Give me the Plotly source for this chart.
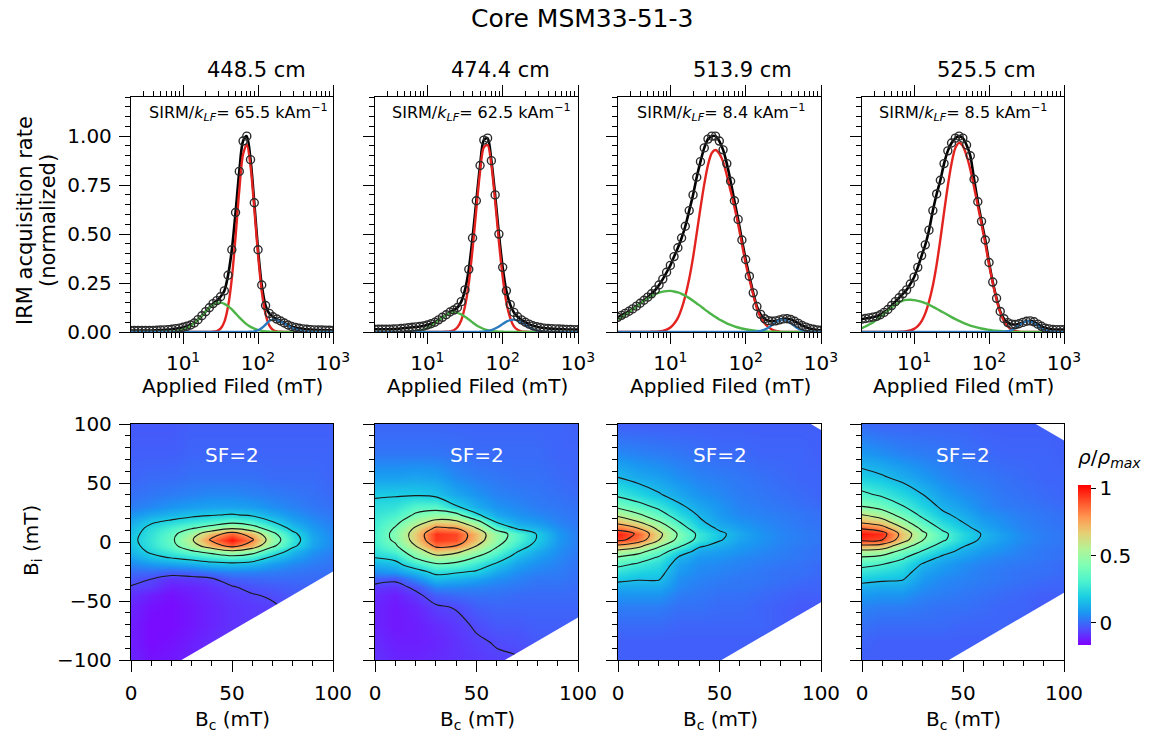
import plotly.graph_objects as go

W, H = 1149, 736
FONT = "DejaVu Sans"


def fx(p):
    return p / W


def fy(p):
    return 1 - p / H


# ---------------- IRM acquisition (top row) ----------------
FIELD_MT = [2.00, 2.24, 2.51, 2.82, 3.16, 3.55, 3.98, 4.47, 5.01, 5.62,
            6.31, 7.08, 7.94, 8.91, 10.0, 11.2, 12.6, 14.1, 15.8, 17.8,
            20.0, 22.4, 25.1, 28.2, 31.6, 35.5, 39.8, 44.7, 50.1, 56.2,
            63.1, 70.8, 79.4, 89.1, 100, 112, 126, 141, 158, 178,
            200, 224, 251, 282, 316, 355, 398, 447, 501, 562,
            631, 708, 794, 891, 1000]

TOTAL_448 = [0.008, 0.008, 0.008, 0.008, 0.008, 0.008, 0.008, 0.009, 0.010, 0.011,
             0.012, 0.014, 0.017, 0.020, 0.024, 0.029, 0.036, 0.046, 0.063, 0.083,
             0.104, 0.124, 0.145, 0.160, 0.180, 0.210, 0.290, 0.420, 0.610, 0.820,
             0.975, 1.000, 0.880, 0.660, 0.420, 0.240, 0.135, 0.095, 0.078, 0.066,
             0.056, 0.046, 0.036, 0.028, 0.023, 0.019, 0.016, 0.014, 0.012, 0.011,
             0.010, 0.010, 0.009, 0.009, 0.008]
RED_448 = [0, 0, 0, 0, 0, 0, 0, 0, 0, 0,
           0, 0, 0, 0, 0, 0, 0, 0, 0, 0,
           0, 0, 0.001, 0.005, 0.017, 0.052, 0.130, 0.274, 0.486, 0.725,
           0.908, 0.957, 0.847, 0.631, 0.395, 0.208, 0.092, 0.034, 0.011, 0.003,
           0.001, 0, 0, 0, 0, 0, 0, 0, 0, 0,
           0, 0, 0, 0, 0]
GREEN_448 = [0, 0, 0, 0, 0, 0, 0, 0, 0, 0.001,
             0.001, 0.002, 0.004, 0.007, 0.013, 0.020, 0.031, 0.045, 0.063, 0.083,
             0.103, 0.123, 0.138, 0.148, 0.150, 0.144, 0.132, 0.115, 0.095, 0.075,
             0.056, 0.039, 0.026, 0.017, 0.010, 0.006, 0.003, 0.002, 0.001, 0,
             0, 0, 0, 0, 0, 0, 0, 0, 0, 0,
             0, 0, 0, 0, 0]
BLUE_448 = [0, 0, 0, 0, 0, 0, 0, 0, 0, 0,
            0, 0, 0, 0, 0, 0, 0, 0, 0, 0,
            0, 0, 0, 0, 0, 0, 0, 0, 0, 0,
            0, 0, 0.001, 0.003, 0.009, 0.020, 0.038, 0.056, 0.063, 0.060,
            0.053, 0.043, 0.032, 0.021, 0.013, 0.008, 0.004, 0.002, 0.001, 0,
            0, 0, 0, 0, 0]

TOTAL_474 = [0.014, 0.014, 0.014, 0.014, 0.014, 0.015, 0.016, 0.018, 0.020, 0.022,
             0.024, 0.026, 0.028, 0.031, 0.036, 0.042, 0.050, 0.062, 0.075, 0.088,
             0.102, 0.112, 0.125, 0.155, 0.215, 0.320, 0.480, 0.670, 0.850, 0.980,
             0.990, 0.875, 0.700, 0.500, 0.330, 0.210, 0.140, 0.100, 0.078, 0.062,
             0.050, 0.040, 0.032, 0.027, 0.023, 0.020, 0.018, 0.017, 0.016, 0.015,
             0.014, 0.013, 0.013, 0.012, 0.012]
RED_474 = [0, 0, 0, 0, 0, 0, 0, 0, 0, 0,
           0, 0, 0, 0, 0, 0, 0, 0, 0, 0.001,
           0.003, 0.009, 0.024, 0.060, 0.131, 0.250, 0.422, 0.627, 0.819, 0.943,
           0.955, 0.852, 0.669, 0.462, 0.281, 0.150, 0.071, 0.029, 0.011, 0.003,
           0.001, 0, 0, 0, 0, 0, 0, 0, 0, 0,
           0, 0, 0, 0, 0]
GREEN_474 = [0, 0, 0, 0, 0, 0, 0, 0, 0, 0.001,
             0.002, 0.004, 0.007, 0.012, 0.020, 0.030, 0.043, 0.058, 0.073, 0.086,
             0.096, 0.100, 0.098, 0.090, 0.078, 0.064, 0.049, 0.035, 0.024, 0.015,
             0.009, 0.005, 0.003, 0.001, 0.001, 0, 0, 0, 0, 0,
             0, 0, 0, 0, 0, 0, 0, 0, 0, 0,
             0, 0, 0, 0, 0]
BLUE_474 = [0, 0, 0, 0, 0, 0, 0, 0, 0, 0,
            0, 0, 0, 0, 0, 0, 0, 0, 0, 0,
            0, 0, 0, 0, 0, 0, 0, 0, 0.001, 0.002,
            0.005, 0.010, 0.018, 0.028, 0.041, 0.053, 0.061, 0.063, 0.058, 0.048,
            0.036, 0.024, 0.014, 0.007, 0.004, 0.002, 0.001, 0, 0, 0,
            0, 0, 0, 0, 0]

TOTAL_513 = [0.075, 0.085, 0.095, 0.106, 0.118, 0.132, 0.147, 0.162, 0.178, 0.195,
             0.215, 0.240, 0.270, 0.305, 0.340, 0.385, 0.430, 0.480, 0.540, 0.620,
             0.700, 0.790, 0.870, 0.940, 0.985, 1.000, 1.000, 0.975, 0.930, 0.860,
             0.770, 0.670, 0.575, 0.470, 0.370, 0.285, 0.200, 0.130, 0.090, 0.068,
             0.058, 0.055, 0.057, 0.062, 0.067, 0.068, 0.064, 0.055, 0.044, 0.033,
             0.025, 0.018, 0.014, 0.010, 0.009]
RED_513 = [0, 0, 0, 0, 0, 0, 0, 0, 0, 0.001,
           0.001, 0.003, 0.006, 0.012, 0.023, 0.042, 0.072, 0.119, 0.184, 0.272,
           0.380, 0.504, 0.633, 0.755, 0.853, 0.914, 0.929, 0.910, 0.870, 0.800,
           0.720, 0.640, 0.550, 0.450, 0.350, 0.270, 0.190, 0.120, 0.075, 0.045,
           0.025, 0.012, 0.005, 0.002, 0, 0, 0, 0, 0, 0,
           0, 0, 0, 0, 0]
GREEN_513 = [0.062, 0.074, 0.087, 0.100, 0.115, 0.129, 0.144, 0.158, 0.171, 0.183,
             0.193, 0.201, 0.206, 0.209, 0.210, 0.207, 0.202, 0.195, 0.185, 0.173,
             0.160, 0.146, 0.132, 0.117, 0.103, 0.089, 0.076, 0.064, 0.054, 0.044,
             0.036, 0.029, 0.023, 0.018, 0.014, 0.010, 0.008, 0.006, 0.004, 0.003,
             0.002, 0.001, 0.001, 0, 0, 0, 0, 0, 0, 0,
             0, 0, 0, 0, 0]
BLUE_513 = [0, 0, 0, 0, 0, 0, 0, 0, 0, 0,
            0, 0, 0, 0, 0, 0, 0, 0, 0, 0,
            0, 0, 0, 0, 0, 0, 0, 0, 0, 0,
            0, 0, 0, 0, 0, 0, 0.001, 0.002, 0.005, 0.012,
            0.022, 0.035, 0.050, 0.060, 0.063, 0.057, 0.044, 0.030, 0.017, 0.009,
            0.004, 0.002, 0.001, 0, 0]

TOTAL_525 = [0.066, 0.069, 0.072, 0.076, 0.080, 0.088, 0.100, 0.115, 0.135, 0.155,
             0.175, 0.195, 0.215, 0.245, 0.280, 0.330, 0.390, 0.445, 0.520, 0.620,
             0.705, 0.775, 0.860, 0.925, 0.965, 0.990, 1.000, 0.990, 0.955, 0.900,
             0.780, 0.665, 0.565, 0.470, 0.355, 0.255, 0.172, 0.105, 0.068, 0.048,
             0.040, 0.038, 0.042, 0.049, 0.055, 0.057, 0.052, 0.040, 0.029, 0.020,
             0.016, 0.013, 0.012, 0.012, 0.012]
RED_525 = [0, 0, 0, 0, 0, 0, 0, 0, 0, 0,
           0.001, 0.002, 0.004, 0.008, 0.016, 0.030, 0.055, 0.095, 0.155, 0.238,
           0.345, 0.473, 0.611, 0.747, 0.861, 0.939, 0.966, 0.950, 0.900, 0.830,
           0.740, 0.645, 0.550, 0.450, 0.345, 0.250, 0.165, 0.100, 0.055, 0.028,
           0.012, 0.005, 0.002, 0, 0, 0, 0, 0, 0, 0,
           0, 0, 0, 0, 0]
GREEN_525 = [0.020, 0.028, 0.038, 0.049, 0.062, 0.077, 0.093, 0.109, 0.125, 0.139,
             0.151, 0.160, 0.164, 0.165, 0.163, 0.159, 0.154, 0.147, 0.139, 0.129,
             0.119, 0.108, 0.098, 0.087, 0.076, 0.066, 0.057, 0.048, 0.040, 0.033,
             0.027, 0.022, 0.018, 0.014, 0.011, 0.008, 0.006, 0.005, 0.003, 0.002,
             0.001, 0, 0, 0, 0, 0, 0, 0, 0, 0,
             0, 0, 0, 0, 0]
BLUE_525 = [0, 0, 0, 0, 0, 0, 0, 0, 0, 0,
            0, 0, 0, 0, 0, 0, 0, 0, 0, 0,
            0, 0, 0, 0, 0, 0, 0, 0, 0, 0,
            0, 0, 0, 0, 0, 0, 0, 0, 0.002, 0.004,
            0.010, 0.020, 0.033, 0.046, 0.054, 0.053, 0.044, 0.031, 0.018, 0.009,
            0.004, 0.002, 0.001, 0, 0]

DEPTHS = ["448.5 cm", "474.4 cm", "513.9 cm", "525.5 cm"]
SIRM_KLF = ["65.5", "62.5", "8.4", "8.5"]

# ---------------- FORC diagrams (bottom row) ----------------
BC_GRID = [0, 10, 20, 30, 40, 50, 60, 70, 80, 90, 100]
BI_GRID = [-100, -85, -70, -55, -45, -38, -31, -25, -19, -13, -8, -3,
           2, 7, 12, 17, 23, 30, 40, 55, 75, 100]

# each inner list is one Bc column, values listed along BI_GRID
FORC_448 = [
    [-0.11, -0.12, -0.12, -0.11, -0.09, -0.065, -0.03, 0.0, 0.05, 0.10, 0.14, 0.16,
     0.17, 0.16, 0.14, 0.11, 0.07, 0.03, 0.01, -0.01, -0.02, -0.03],
    [-0.14, -0.15, -0.15, -0.14, -0.12, -0.08, -0.058, 0.0, 0.08, 0.17, 0.22, 0.25,
     0.26, 0.25, 0.23, 0.185, 0.11, 0.05, 0.02, 0.0, -0.02, -0.03],
    [-0.13, -0.14, -0.15, -0.15, -0.14, -0.12, -0.09, -0.02, 0.10, 0.21, 0.29, 0.35,
     0.37, 0.35, 0.30, 0.225, 0.14, 0.07, 0.03, 0.0, -0.02, -0.03],
    [-0.11, -0.12, -0.13, -0.13, -0.12, -0.11, -0.08, -0.01, 0.12, 0.25, 0.38, 0.52,
     0.58, 0.52, 0.38, 0.27, 0.17, 0.09, 0.04, 0.01, -0.01, -0.02],
    [-0.09, -0.10, -0.11, -0.11, -0.10, -0.09, -0.065, 0.02, 0.15, 0.30, 0.46, 0.72,
     0.83, 0.72, 0.46, 0.31, 0.19, 0.10, 0.05, 0.01, -0.01, -0.02],
    [-0.08, -0.08, -0.09, -0.09, -0.08, -0.065, -0.02, 0.04, 0.16, 0.34, 0.56, 0.87,
     1.00, 0.87, 0.56, 0.36, 0.21, 0.10, 0.05, 0.01, -0.01, -0.02],
    [-0.07, -0.07, -0.08, -0.08, -0.065, -0.04, -0.01, 0.04, 0.14, 0.30, 0.47, 0.72,
     0.82, 0.72, 0.47, 0.31, 0.18, 0.09, 0.04, 0.01, -0.01, -0.02],
    [-0.055, -0.055, -0.07, -0.07, -0.05, -0.03, 0.0, 0.03, 0.09, 0.18, 0.29, 0.44,
     0.50, 0.44, 0.30, 0.205, 0.12, 0.06, 0.03, 0.0, -0.01, -0.02],
    [-0.05, -0.05, -0.05, -0.04, -0.03, -0.02, 0.0, 0.02, 0.05, 0.10, 0.15, 0.23,
     0.26, 0.23, 0.16, 0.11, 0.07, 0.04, 0.02, 0.0, -0.01, -0.02],
    [-0.04, -0.04, -0.04, -0.03, -0.02, -0.01, 0.0, 0.01, 0.03, 0.05, 0.07, 0.10,
     0.11, 0.10, 0.08, 0.06, 0.04, 0.02, 0.01, 0.0, -0.01, -0.02],
    [-0.03, -0.03, -0.03, -0.02, -0.02, -0.01, 0.0, 0.01, 0.015, 0.025, 0.035, 0.045,
     0.05, 0.045, 0.04, 0.03, 0.02, 0.01, 0.0, -0.01, -0.01, -0.02],
]
FORC_474 = [
    [-0.09, -0.10, -0.11, -0.11, -0.10, -0.08, -0.02, 0.06, 0.13, 0.205, 0.25, 0.28,
     0.30, 0.30, 0.29, 0.28, 0.26, 0.235, 0.185, 0.09, 0.02, -0.01],
    [-0.11, -0.12, -0.13, -0.13, -0.12, -0.09, -0.04, 0.08, 0.16, 0.24, 0.32, 0.38,
     0.43, 0.44, 0.41, 0.36, 0.30, 0.25, 0.19, 0.09, 0.02, -0.01],
    [-0.11, -0.12, -0.12, -0.11, -0.08, -0.04, 0.05, 0.15, 0.28, 0.42, 0.50, 0.605,
     0.67, 0.68, 0.62, 0.52, 0.42, 0.33, 0.19, 0.10, 0.02, -0.01],
    [-0.10, -0.11, -0.10, -0.07, -0.02, 0.05, 0.15, 0.24, 0.38, 0.54, 0.69, 0.84,
     0.94, 0.95, 0.82, 0.66, 0.47, 0.34, 0.17, 0.09, 0.02, -0.01],
    [-0.09, -0.09, -0.08, -0.055, 0.0, 0.05, 0.13, 0.22, 0.36, 0.50, 0.64, 0.805,
     0.91, 0.92, 0.79, 0.63, 0.45, 0.21, 0.11, 0.05, 0.01, -0.01],
    [-0.08, -0.07, -0.05, -0.02, 0.01, 0.04, 0.10, 0.19, 0.27, 0.39, 0.50, 0.605,
     0.69, 0.70, 0.595, 0.47, 0.22, 0.12, 0.07, 0.03, 0.0, -0.01],
    [-0.07, -0.055, -0.03, -0.01, 0.01, 0.03, 0.06, 0.11, 0.18, 0.27, 0.35, 0.42,
     0.47, 0.48, 0.33, 0.19, 0.11, 0.07, 0.04, 0.02, 0.0, -0.01],
    [-0.065, -0.045, -0.03, -0.01, 0.0, 0.02, 0.04, 0.06, 0.10, 0.15, 0.205, 0.27,
     0.32, 0.33, 0.17, 0.11, 0.07, 0.05, 0.03, 0.01, 0.0, -0.01],
    [-0.04, -0.03, -0.02, -0.01, 0.0, 0.01, 0.02, 0.04, 0.06, 0.09, 0.12, 0.16,
     0.19, 0.19, 0.13, 0.08, 0.05, 0.03, 0.02, 0.01, 0.0, -0.01],
    [-0.03, -0.03, -0.02, -0.01, 0.0, 0.01, 0.02, 0.03, 0.04, 0.05, 0.06, 0.07,
     0.08, 0.08, 0.06, 0.04, 0.03, 0.02, 0.01, 0.0, -0.01, -0.01],
    [-0.03, -0.02, -0.02, -0.01, 0.0, 0.0, 0.01, 0.01, 0.015, 0.02, 0.025, 0.03,
     0.03, 0.03, 0.025, 0.02, 0.015, 0.01, 0.0, -0.01, -0.01, -0.02],
]
FORC_513 = [
    [-0.02, -0.02, 0.0, 0.03, 0.07, 0.11, 0.18, 0.25, 0.33, 0.44, 0.56, 0.73,
     0.94, 0.98, 0.84, 0.70, 0.57, 0.42, 0.275, 0.148, 0.05, -0.02],
    [-0.02, -0.02, 0.0, 0.03, 0.07, 0.11, 0.16, 0.21, 0.28, 0.38, 0.50, 0.65,
     0.84, 0.88, 0.74, 0.605, 0.47, 0.35, 0.22, 0.11, 0.04, -0.02],
    [-0.02, -0.02, 0.0, 0.03, 0.07, 0.11, 0.16, 0.19, 0.23, 0.29, 0.37, 0.48,
     0.61, 0.64, 0.56, 0.46, 0.36, 0.27, 0.16, 0.09, 0.03, -0.02],
    [-0.02, -0.02, -0.01, 0.01, 0.03, 0.05, 0.06, 0.08, 0.10, 0.14, 0.22, 0.33,
     0.41, 0.43, 0.37, 0.305, 0.23, 0.17, 0.11, 0.06, 0.02, -0.02],
    [-0.02, -0.02, -0.01, 0.01, 0.02, 0.03, 0.04, 0.05, 0.06, 0.08, 0.11, 0.17,
     0.26, 0.27, 0.21, 0.17, 0.14, 0.11, 0.07, 0.04, 0.01, -0.02],
    [-0.02, -0.02, -0.01, 0.0, 0.01, 0.02, 0.03, 0.04, 0.05, 0.07, 0.09, 0.12,
     0.16, 0.17, 0.13, 0.10, 0.08, 0.07, 0.05, 0.03, 0.0, -0.02],
    [-0.02, -0.02, -0.01, 0.0, 0.01, 0.02, 0.02, 0.03, 0.04, 0.05, 0.07, 0.08,
     0.10, 0.11, 0.09, 0.07, 0.05, 0.04, 0.03, 0.02, 0.0, -0.02],
    [-0.02, -0.02, -0.01, -0.01, 0.0, 0.01, 0.02, 0.02, 0.03, 0.04, 0.05, 0.06,
     0.07, 0.07, 0.06, 0.05, 0.04, 0.03, 0.02, 0.01, -0.01, -0.02],
    [-0.03, -0.03, -0.02, -0.02, -0.01, 0.0, 0.01, 0.01, 0.02, 0.03, 0.035, 0.04,
     0.045, 0.045, 0.04, 0.035, 0.03, 0.02, 0.01, 0.0, -0.01, -0.02],
    [-0.03, -0.03, -0.03, -0.03, -0.02, -0.01, 0.0, 0.01, 0.01, 0.02, 0.02, 0.025,
     0.03, 0.03, 0.025, 0.02, 0.02, 0.01, 0.0, -0.01, -0.01, -0.02],
    [-0.03, -0.03, -0.03, -0.03, -0.02, -0.01, -0.01, 0.0, 0.0, 0.01, 0.01, 0.015,
     0.02, 0.02, 0.015, 0.01, 0.01, 0.0, -0.01, -0.01, -0.02, -0.02],
]
FORC_525 = [
    [-0.02, -0.01, 0.01, 0.04, 0.08, 0.12, 0.19, 0.26, 0.33, 0.44, 0.56, 0.73,
     0.94, 0.99, 0.88, 0.72, 0.602, 0.452, 0.33, 0.19, 0.08, 0.0],
    [-0.02, -0.02, 0.0, 0.03, 0.07, 0.11, 0.17, 0.23, 0.30, 0.41, 0.53, 0.70,
     0.91, 0.96, 0.80, 0.66, 0.53, 0.40, 0.28, 0.16, 0.06, -0.01],
    [-0.02, -0.02, 0.0, 0.03, 0.07, 0.11, 0.16, 0.20, 0.25, 0.32, 0.41, 0.53,
     0.67, 0.70, 0.605, 0.50, 0.40, 0.31, 0.22, 0.12, 0.04, -0.01],
    [-0.02, -0.02, 0.0, 0.02, 0.04, 0.06, 0.08, 0.10, 0.14, 0.21, 0.29, 0.37,
     0.46, 0.48, 0.41, 0.34, 0.27, 0.21, 0.152, 0.08, 0.03, -0.01],
    [-0.02, -0.02, 0.0, 0.01, 0.03, 0.04, 0.05, 0.07, 0.09, 0.13, 0.19, 0.25,
     0.32, 0.33, 0.27, 0.22, 0.17, 0.13, 0.09, 0.05, 0.02, -0.01],
    [-0.02, -0.02, -0.01, 0.01, 0.02, 0.03, 0.04, 0.05, 0.06, 0.09, 0.12, 0.16,
     0.21, 0.22, 0.18, 0.148, 0.12, 0.09, 0.06, 0.03, 0.01, -0.01],
    [-0.02, -0.02, -0.01, 0.0, 0.01, 0.02, 0.03, 0.03, 0.04, 0.06, 0.08, 0.10,
     0.13, 0.14, 0.11, 0.09, 0.07, 0.05, 0.04, 0.02, 0.0, -0.02],
    [-0.02, -0.02, -0.01, -0.01, 0.0, 0.01, 0.02, 0.02, 0.03, 0.04, 0.06, 0.07,
     0.085, 0.09, 0.07, 0.06, 0.05, 0.03, 0.02, 0.01, -0.01, -0.02],
    [-0.03, -0.02, -0.02, -0.01, -0.01, 0.0, 0.01, 0.01, 0.02, 0.03, 0.035, 0.04,
     0.05, 0.05, 0.04, 0.035, 0.03, 0.02, 0.01, 0.0, -0.01, -0.02],
    [-0.03, -0.03, -0.03, -0.03, -0.02, -0.01, 0.0, 0.01, 0.01, 0.02, 0.02, 0.025,
     0.03, 0.03, 0.025, 0.02, 0.02, 0.01, 0.0, -0.01, -0.01, -0.02],
    [-0.03, -0.03, -0.03, -0.03, -0.02, -0.01, -0.01, 0.0, 0.0, 0.01, 0.01, 0.015,
     0.02, 0.02, 0.015, 0.01, 0.01, 0.0, -0.01, -0.01, -0.02, -0.02],
]

# contour levels (start, end, step) and optional negative level
LEVELS = [(0.2, 0.8, 0.2), (0.2, 0.8, 0.2), (0.15, 0.9, 0.15), (0.15, 0.9, 0.15)]
NEG_LEVEL = [-0.06, -0.06, None, None]

# blank (unmeasured) regions of each FORC diagram, as polygons in (Bc, Bi)
MASK_448_BC, MASK_448_BI = [20, 105, 105], [-105, -20, -105]
MASK_474_BC, MASK_474_BI = [59, 105, 105], [-105, -59, -105]
MASK_513_BC, MASK_513_BI = [46, 105, 105], [-105, -46, -105]
MASK_513_TOP_BC, MASK_513_TOP_BI = [90, 105, 105], [105, 90, 105]
MASK_525_BC, MASK_525_BI = [38, 105, 105], [-105, -38, -105]
MASK_525_TOP_BC, MASK_525_TOP_BI = [81, 105, 105], [105, 81, 105]

TOPS = [
    (TOTAL_448, RED_448, GREEN_448, BLUE_448),
    (TOTAL_474, RED_474, GREEN_474, BLUE_474),
    (TOTAL_513, RED_513, GREEN_513, BLUE_513),
    (TOTAL_525, RED_525, GREEN_525, BLUE_525),
]
FORCS = [FORC_448, FORC_474, FORC_513, FORC_525]
MASKS = [
    [(MASK_448_BC, MASK_448_BI)],
    [(MASK_474_BC, MASK_474_BI)],
    [(MASK_513_BC, MASK_513_BI), (MASK_513_TOP_BC, MASK_513_TOP_BI)],
    [(MASK_525_BC, MASK_525_BI), (MASK_525_TOP_BC, MASK_525_TOP_BI)],
]

for arrs in TOPS:
    for a in arrs:
        assert len(a) == len(FIELD_MT), len(a)
for f in FORCS:
    assert len(f) == len(BC_GRID)
    for col in f:
        assert len(col) == len(BI_GRID), len(col)

# matplotlib-like "rainbow" colour map
RAINBOW = [
    [0.0, "rgb(128,0,255)"], [0.1, "rgb(77,79,252)"], [0.2, "rgb(26,150,242)"],
    [0.3, "rgb(26,206,227)"], [0.4, "rgb(77,243,206)"], [0.5, "rgb(128,255,180)"],
    [0.6, "rgb(179,243,150)"], [0.7, "rgb(230,206,116)"], [0.8, "rgb(255,150,79)"],
    [0.9, "rgb(255,79,40)"], [1.0, "rgb(255,0,0)"],
]

RED_C, GREEN_C, BLUE_C = "#e3231f", "#4db548", "#2a7abf"

X_PIX = [(131, 333), (375, 578), (618, 821), (862, 1064)]
TOP_PIX = (97, 332)
BOT_PIX = (424, 660)

fig = go.Figure()

MINOR_LOG = [m * d for d in (1, 10, 100) for m in range(2, 10)]

axis_common = dict(showline=True, linecolor="black", linewidth=1.3,
                   ticks="outside", ticklen=11, tickwidth=1.3, tickcolor="black",
                   showgrid=False, zeroline=False, automargin=False,
                   tickfont=dict(family=FONT, size=20, color="black"))

layout_axes = {}
for i in range(4):
    # ---- top panel ----
    n = i + 1
    xs = "x" if n == 1 else f"x{n}"
    ys = "y" if n == 1 else f"y{n}"
    total, red, green, blue = TOPS[i]
    fig.add_trace(go.Scatter(x=FIELD_MT, y=total, mode="lines", xaxis=xs, yaxis=ys,
                             line=dict(color="black", width=2.6, shape="spline", smoothing=0.8),
                             hoverinfo="skip", showlegend=False))
    for comp, col in ((red, RED_C), (green, GREEN_C), (blue, BLUE_C)):
        fig.add_trace(go.Scatter(x=FIELD_MT, y=comp, mode="lines", xaxis=xs, yaxis=ys,
                                 line=dict(color=col, width=2.4, shape="spline", smoothing=0.8),
                                 hoverinfo="skip", showlegend=False))
    fig.add_trace(go.Scatter(x=FIELD_MT, y=total, mode="markers", xaxis=xs, yaxis=ys,
                             marker=dict(symbol="circle-open", size=8, color="#2b2b2b",
                                         line=dict(color="#2b2b2b", width=1.4)),
                             hoverinfo="skip", showlegend=False))
    x0, x1 = X_PIX[i]
    layout_axes["xaxis" if n == 1 else f"xaxis{n}"] = dict(
        axis_common, type="log", range=[0.305, 3.0], domain=[fx(x0), fx(x1)],
        anchor=ys, mirror="ticks", tickvals=[10, 100, 1000],
        ticktext=["10<sup>1</sup>", "10<sup>2</sup>", "10<sup>3</sup>"],
        ticklabelstandoff=2,
        minor=dict(tickmode="array", tickvals=MINOR_LOG, ticks="outside",
                   ticklen=5, tickwidth=1, tickcolor="black"))
    layout_axes["yaxis" if n == 1 else f"yaxis{n}"] = dict(
        axis_common, range=[0, 1.2], domain=[fy(TOP_PIX[1]), fy(TOP_PIX[0])],
        anchor=xs, mirror=True, tickvals=[0, 0.25, 0.5, 0.75, 1.0],
        ticktext=["0.00", "0.25", "0.50", "0.75", "1.00"],
        showticklabels=(i == 0), ticklabelstandoff=3,
        minor=dict(tickmode="linear", tick0=0, dtick=0.05, ticks="outside",
                   ticklen=5, tickwidth=1, tickcolor="black"))

    # ---- bottom panel ----
    m = i + 5
    xs2, ys2 = f"x{m}", f"y{m}"
    cols = FORCS[i]
    z = [[c[r] for c in cols] for r in range(len(BI_GRID))]
    fig.add_trace(go.Heatmap(x=BC_GRID, y=BI_GRID, z=z, zsmooth="best",
                             coloraxis="coloraxis", xaxis=xs2, yaxis=ys2,
                             hoverinfo="skip"))
    s, e, st = LEVELS[i]
    fig.add_trace(go.Contour(x=BC_GRID, y=BI_GRID, z=z, xaxis=xs2, yaxis=ys2,
                             contours=dict(start=s, end=e + 1e-9, size=st, coloring="none"),
                             line=dict(color="#1a1a1a", width=1.1, smoothing=1.0),
                             showscale=False, hoverinfo="skip", showlegend=False))
    if NEG_LEVEL[i] is not None:
        fig.add_trace(go.Contour(x=BC_GRID, y=BI_GRID, z=z, xaxis=xs2, yaxis=ys2,
                                 contours=dict(start=NEG_LEVEL[i], end=NEG_LEVEL[i],
                                               size=0.1, coloring="none"),
                                 line=dict(color="#1a1a1a", width=1.1, smoothing=1.0),
                                 showscale=False, hoverinfo="skip", showlegend=False))
    for mbc, mbi in MASKS[i]:
        fig.add_trace(go.Scatter(x=mbc, y=mbi, mode="lines", fill="toself",
                                 fillcolor="white", line=dict(width=0, color="white"),
                                 xaxis=xs2, yaxis=ys2, hoverinfo="skip", showlegend=False))
    layout_axes[f"xaxis{m}"] = dict(
        axis_common, range=[0, 100], domain=[fx(x0), fx(x1)], anchor=ys2,
        mirror=True, tickvals=[0, 50, 100], ticktext=["0", "50", "100"],
        ticklabelstandoff=4,
        minor=dict(tickmode="linear", tick0=0, dtick=10, ticks="outside",
                   ticklen=5, tickwidth=1, tickcolor="black"))
    layout_axes[f"yaxis{m}"] = dict(
        axis_common, range=[-100, 100], domain=[fy(BOT_PIX[1]), fy(BOT_PIX[0])],
        anchor=xs2, mirror=True, tickvals=[-100, -50, 0, 50, 100],
        ticktext=["\u2212100", "\u221250", "0", "50", "100"],
        showticklabels=(i == 0), ticklabelstandoff=3,
        minor=dict(tickmode="linear", tick0=0, dtick=10, ticks="outside",
                   ticklen=5, tickwidth=1, tickcolor="black"))

annotations = []


def ann(text, x, y, size, color="black", angle=0):
    annotations.append(dict(text=text, x=fx(x), y=fy(y), xref="paper", yref="paper",
                            showarrow=False, xanchor="center", yanchor="middle",
                            textangle=angle,
                            font=dict(family=FONT, size=size, color=color)))


ann("Core MSM33-51-3", 582, 18, 25)
for i, cx in enumerate([256, 500, 742, 986]):
    ann(DEPTHS[i], cx, 70, 21)
for i, cx in enumerate([238, 481, 721, 963]):
    ann(f"SIRM/<i>k<sub>LF</sub></i>= {SIRM_KLF[i]} kAm<sup>\u22121</sup>", cx, 113, 16)
for cx in [232, 477, 720, 963]:
    ann("Applied Filed (mT)", cx, 386, 20)
    ann("SF=2", cx, 455, 20, color="white")
    ann("B<sub>c</sub> (mT)", cx, 720, 20)
ann("IRM acquisition rate", 25, 221, 21, angle=-90)
ann("(normalized)", 48, 221, 21, angle=-90)
ann("B<sub>i</sub> (mT)", 32, 541, 20, angle=-90)
ann("<i>\u03c1</i>/<i>\u03c1<sub>max</sub></i>", 1109, 458, 20)

fig.update_layout(
    width=W, height=H, autosize=False,
    margin=dict(l=0, r=0, t=0, b=0, pad=0, autoexpand=False),
    paper_bgcolor="white", plot_bgcolor="white",
    font=dict(family=FONT, size=20, color="black"),
    showlegend=False,
    annotations=annotations,
    coloraxis=dict(
        colorscale=RAINBOW, cmin=-0.166, cmax=1.025,
        colorbar=dict(x=fx(1078), xanchor="left", y=fy(565), yanchor="middle",
                      len=160 / H, lenmode="fraction", thickness=13,
                      thicknessmode="pixels", outlinewidth=0, xpad=0, ypad=0,
                      tickvals=[0, 0.5, 1], ticktext=["0", "0.5", "1"],
                      ticks="outside", ticklen=5, tickcolor="black",
                      tickfont=dict(family=FONT, size=20, color="black"))),
    **layout_axes,
)

fig.write_html("out.html", config={"displayModeBar": False},
               post_script="document.body.style.margin='0';document.body.style.padding='0';")
